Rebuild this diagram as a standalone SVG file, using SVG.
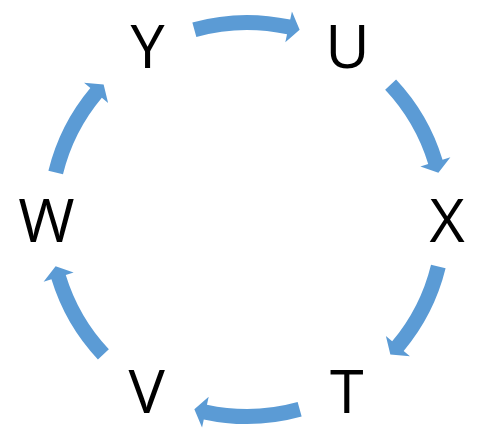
<svg xmlns="http://www.w3.org/2000/svg" xmlns:xlink="http://www.w3.org/1999/xlink" width="495" height="444" viewBox="0 0 495 444">
  <style>
    .lbl { font-family: "Open Sans", "Liberation Sans", sans-serif; font-size: 61px; fill: #000000; text-anchor: middle; }
    .arr { fill: #5B9BD5; }
  </style>
  <defs>
    <path id="arrow-long" d="M192.35,22.44 A204.5,204.5 0 0 1 290.21,19.62 L291.95,11.60 L299.65,29.67 L285.31,42.29 L287.05,34.28 A189.5,189.5 0 0 0 196.36,36.89 Z"/>
    <path id="arrow-short" d="M197.53,21.07 A204.5,204.5 0 0 1 290.21,19.62 L291.95,11.60 L299.65,29.67 L285.31,42.29 L287.05,34.28 A189.5,189.5 0 0 0 201.16,35.63 Z"/>
  </defs>
  <rect width="495" height="444" fill="#ffffff"/>
  <g id="connectors" class="arr">
    <use id="edge-Y-U" xlink:href="#arrow-long" href="#arrow-long"/>
    <use id="edge-U-X" xlink:href="#arrow-short" href="#arrow-short" transform="rotate(60.8 247 219.5)"/>
    <use id="edge-X-T" xlink:href="#arrow-short" href="#arrow-short" transform="rotate(117.8 247 219.5)"/>
    <use id="edge-T-V" xlink:href="#arrow-long" href="#arrow-long" transform="rotate(180 247 219.5)"/>
    <use id="edge-V-W" xlink:href="#arrow-short" href="#arrow-short" transform="rotate(240.8 247 219.5)"/>
    <use id="edge-W-Y" xlink:href="#arrow-short" href="#arrow-short" transform="rotate(297.8 247 219.5)"/>
  </g>
  <g id="node-Y"><text class="lbl" x="147.5" y="67.5">Y</text></g>
  <g id="node-U"><text class="lbl" x="347.5" y="67.5">U</text></g>
  <g id="node-X"><text class="lbl" x="447" y="242">X</text></g>
  <g id="node-T"><text class="lbl" x="346.7" y="413">T</text></g>
  <g id="node-V"><text class="lbl" x="146.7" y="413">V</text></g>
  <g id="node-W"><text class="lbl" x="46.5" y="242">W</text></g>
</svg>
